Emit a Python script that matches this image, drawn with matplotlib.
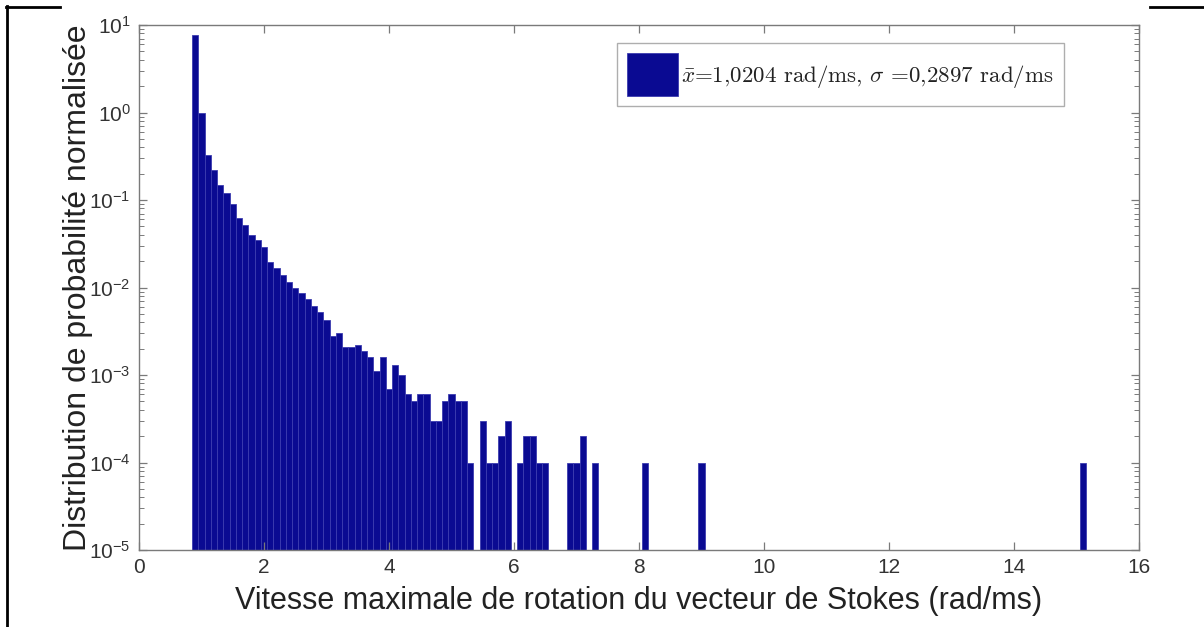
import matplotlib
matplotlib.use("Agg")
import matplotlib.pyplot as plt
from matplotlib.lines import Line2D
from matplotlib.ticker import LogLocator, FixedLocator, NullLocator

plt.rcParams['font.family'] = ['Liberation Sans', 'DejaVu Sans']
plt.rcParams['mathtext.fontset'] = 'custom'
plt.rcParams['mathtext.rm'] = 'Liberation Sans'
plt.rcParams['mathtext.it'] = 'Liberation Sans:italic'

# Histogram bins (centres, rad/ms) and normalised probability density
bin_centers = [0.9, 1.0, 1.1, 1.2, 1.3, 1.4, 1.5, 1.6, 1.7, 1.8, 1.9, 2.0,
               2.1, 2.2, 2.3, 2.4, 2.5, 2.6, 2.7, 2.8, 2.9, 3.0,
               3.1, 3.2, 3.3, 3.4, 3.5, 3.6, 3.7, 3.8, 3.9, 4.0,
               4.1, 4.2, 4.3, 4.4, 4.5, 4.6, 4.7, 4.8, 4.9, 5.0,
               5.1, 5.2, 5.3, 5.5, 5.6, 5.7, 5.8, 5.9,
               6.1, 6.2, 6.3, 6.4, 6.5, 6.9, 7.0, 7.1, 7.3,
               8.1, 9.0, 15.1]
density = [7.6, 0.98, 0.33, 0.22, 0.15, 0.119, 0.09, 0.062, 0.052, 0.040, 0.035, 0.029,
           0.0195, 0.0166, 0.0139, 0.0117, 0.0098, 0.0086, 0.0074, 0.0062, 0.0052, 0.0043,
           0.0028, 0.0030, 0.0021, 0.0021, 0.0022, 0.0019, 0.0016, 0.0011, 0.0016, 0.0007,
           0.0013, 0.0010, 0.0006, 0.0005, 0.0006, 0.0006, 0.0003, 0.0003, 0.0005, 0.0006,
           0.0005, 0.0005, 0.0001, 0.0003, 0.0001, 0.0001, 0.0002, 0.0003,
           0.0001, 0.0002, 0.0002, 0.0001, 0.0001, 0.0001, 0.0001, 0.0002, 0.0001,
           0.0001, 0.0001, 0.0001]
bin_width = 0.1

x_ticks = [0, 2, 4, 6, 8, 10, 12, 14, 16]
legend_label = r'$\bar{x}$=1,0204 rad/ms, $\sigma$ =0,2897 rad/ms'
x_label = 'Vitesse maximale de rotation du vecteur de Stokes (rad/ms)'
y_label = 'Distribution de probabilité normalisée'

bar_color = '#0a0a92'
axis_color = '#7a7a7a'

fig = plt.figure(figsize=(12.04, 6.27), dpi=100)
ax = fig.add_axes([139 / 1204, 77 / 627, 1000 / 1204, 525 / 627])
ax.set_yscale('log')

ax.bar(bin_centers, density, width=bin_width, color=bar_color,
       edgecolor='#3c3cb0', linewidth=0.6, label=legend_label)

ax.set_xlim(0, 16)
ax.set_ylim(1e-5, 10)
ax.xaxis.set_major_locator(FixedLocator(x_ticks))
ax.xaxis.set_minor_locator(NullLocator())
ax.yaxis.set_major_locator(LogLocator(base=10, numticks=10))
ax.yaxis.set_minor_locator(LogLocator(base=10, subs=range(2, 10), numticks=10))

for side in ax.spines.values():
    side.set_color(axis_color)
    side.set_linewidth(1.0)
ax.tick_params(which='both', direction='in', top=True, right=True,
               colors=axis_color, labelcolor='#333333')
ax.tick_params(which='major', length=6, width=0.9, labelsize=15, pad=6)
ax.tick_params(which='minor', length=3.5, width=0.7)

ax.set_xlabel(x_label, fontsize=22, color='#222222', labelpad=6)
ax.set_ylabel(y_label, fontsize=23, color='#222222', labelpad=-3)

leg = ax.legend(loc='upper right', bbox_to_anchor=(0.925, 0.966),
                fontsize=16.5, frameon=True, fancybox=False,
                handlelength=2.2, handleheight=2.5, handletextpad=0.15,
                borderpad=0.45, borderaxespad=0)
leg.get_frame().set_edgecolor('#9a9a9a')
leg.get_frame().set_linewidth(1.0)
for t in leg.get_texts():
    t.set_fontfamily('cmr10')
    t.set_math_fontfamily('cm')
    t.set_color('#222222')

# Page frame lines around the figure
fig.add_artist(Line2D([7 / 1204, 7 / 1204], [0, 1 - 6 / 627], color='black', lw=2))
fig.add_artist(Line2D([6 / 1204, 60 / 1204], [1 - 6.5 / 627, 1 - 6.5 / 627], color='black', lw=2))
fig.add_artist(Line2D([1150 / 1204, 1], [1 - 6.5 / 627, 1 - 6.5 / 627], color='black', lw=2))

fig.savefig('out.png', dpi=100)
